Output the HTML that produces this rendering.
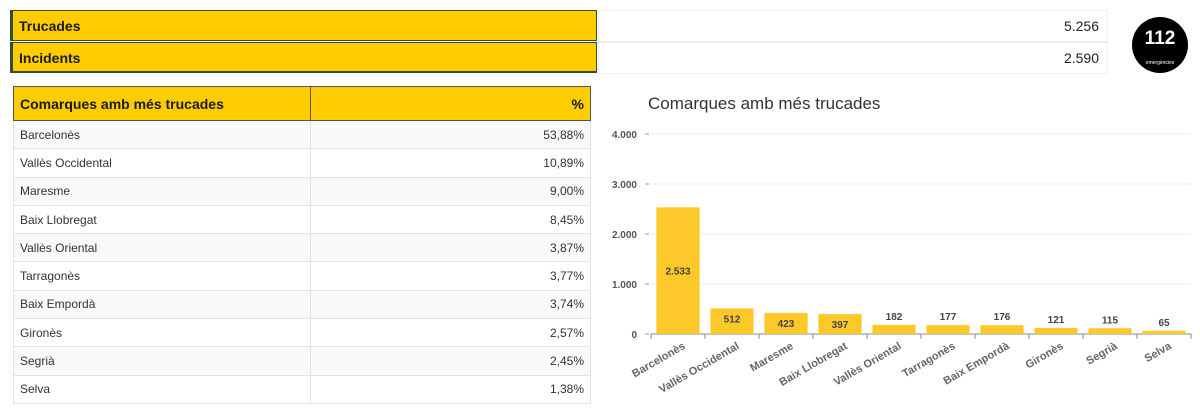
<!DOCTYPE html>
<html><head><meta charset="utf-8"><style>
body{margin:0;width:1200px;height:415px;background:#fff;font-family:"Liberation Sans",sans-serif;position:relative;overflow:hidden}
.abs{position:absolute}
.topbar{left:10px;width:587px;height:31px;background:#fc0;border:1px solid #2f4f2f;box-sizing:border-box;font-weight:bold;font-size:14px;line-height:30px;padding-left:6px;color:#1a1a1a}
.topval{left:598px;width:510px;height:32px;border:1px solid #eee;box-sizing:border-box;text-align:right;font-size:14px;line-height:30px;padding-right:8px;color:#222}
table{border-collapse:collapse;position:absolute;left:13px;top:86px;width:577px;font-size:12px;color:#333;table-layout:fixed}
td{border:1px solid #e3e3e3;height:28.3px;padding:0 6px;box-sizing:border-box}
th{background:#fc0;border:1px solid #555;height:34px;font-size:14px;text-align:left;padding:0 6px;color:#1a1a1a;box-sizing:border-box}
tr:nth-child(odd) td{background:#f8f9fb}
</style></head><body>
<div class="abs topbar" style="top:10px;border-left-width:3px">Trucades</div>
<div class="abs topbar" style="top:42px;border-left-width:3px;border-bottom-width:2px">Incidents</div>
<div class="abs topval" style="top:10px">5.256</div>
<div class="abs topval" style="top:42px">2.590</div>
<div class="abs" style="left:1132px;top:17px;width:56px;height:56px;border-radius:50%;background:#000;color:#fff;text-align:center;font-weight:bold;font-size:19px;line-height:44px">112<div style="font-size:5px;line-height:4px;font-weight:normal">emergències</div></div>
<table>
<colgroup><col style="width:297px"><col style="width:280px"></colgroup>
<tr><th>Comarques amb més trucades</th><th style="text-align:right">%</th></tr>
<tbody id="tb"></tbody></table>
<div class="abs" style="left:648px;top:94px;font-size:17px;color:#333">Comarques amb més trucades</div>
<svg class="abs" style="left:0;top:0" width="1200" height="415" id="chart"></svg>
<script>
const categories=["Barcelonès","Vallès Occidental","Maresme","Baix Llobregat","Vallès Oriental","Tarragonès","Baix Empordà","Gironès","Segrià","Selva"];
const values=[2533,512,423,397,182,177,176,121,115,65];
const valueLabels=["2.533","512","423","397","182","177","176","121","115","65"];
const percents=["53,88%","10,89%","9,00%","8,45%","3,87%","3,77%","3,74%","2,57%","2,45%","1,38%"];
const yTicks=[0,1000,2000,3000,4000];
const yTickLabels=["0","1.000","2.000","3.000","4.000"];
const tb=document.getElementById('tb');
categories.forEach((c,i)=>{const tr=document.createElement('tr');


tr.innerHTML='<td>'+c+'</td><td style="text-align:right">'+percents[i]+'</td>';tb.appendChild(tr);});
const NS="http://www.w3.org/2000/svg",svg=document.getElementById('chart');
const x0=651,x1=1191,y0=334,yMax=4000,ph=200;
const y=v=>y0-v/yMax*ph;const bw=(x1-x0)/categories.length;
function el(t,a,txt){const e=document.createElementNS(NS,t);for(const k in a)e.setAttribute(k,a[k]);if(txt!=null)e.textContent=txt;svg.appendChild(e);return e;}
yTicks.forEach((t,i)=>{
 const g=el('line',{x1:x0,x2:x1,y1:y(t),y2:y(t),stroke:t?'#ececec':'#888','stroke-width':1});
 
 
 el('line',{x1:x0-6,x2:x0-2,y1:y(t),y2:y(t),stroke:'#999'});
 const l=el('text',{x:x0-14,y:y(t)+4,'text-anchor':'end','font-size':10,'font-weight':'bold',fill:'#555'},yTickLabels[i]);
 
 
});
categories.forEach((c,i)=>{
 const cx=x0+bw*(i+0.5),w=bw*0.8,top=y(values[i]);
 el('line',{x1:x0+bw*i,x2:x0+bw*i,y1:y0,y2:y0+5,stroke:'#888'});
 const b=el('rect',{x:cx-w/2,y:top,width:w,height:y0-top,fill:'#fcc82a'});
 
 
 const inside=(y0-top)>18;
 const vl=el('text',{x:cx,y:inside?(values[i]>1000?(top+y0)/2+4:top+14):top-5,'text-anchor':'middle','font-size':10,'font-weight':'bold',fill:'#444'},valueLabels[i]);
 
 
 const cl=el('text',{x:cx+8,y:y0+14,'text-anchor':'end','font-size':11,'font-weight':'bold',fill:'#666',transform:'rotate(-30 '+(cx+8)+' '+(y0+14)+')'},c);
 
 
});
el('line',{x1:x1,x2:x1,y1:y0,y2:y0+5,stroke:'#888'});
</script>
</body></html>
